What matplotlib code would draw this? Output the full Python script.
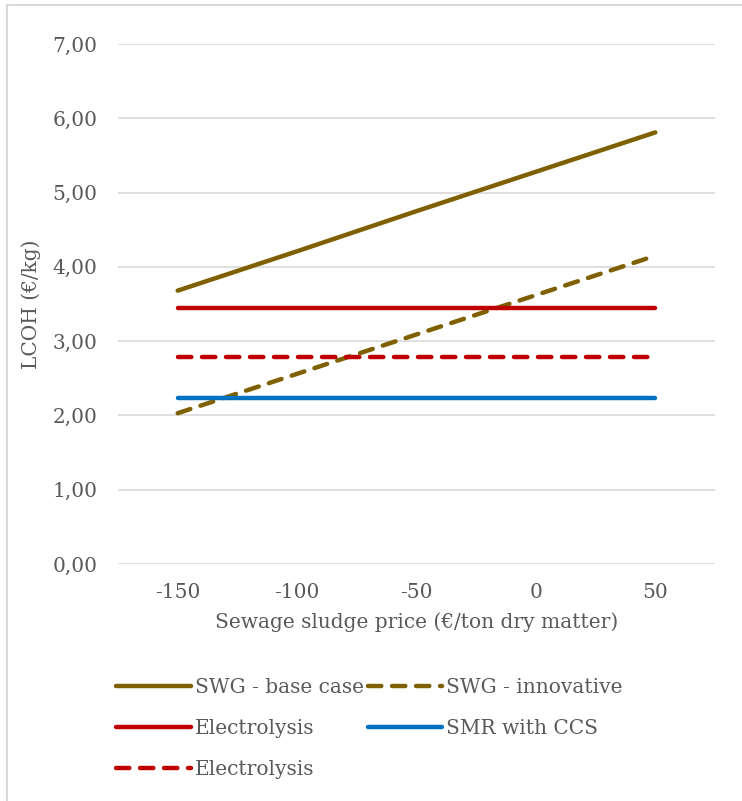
import matplotlib.pyplot as plt
from matplotlib.patches import Rectangle

# data
sludge_price = [-150, -100, -50, 0, 50]
swg_base = [3.68, 4.21, 4.75, 5.28, 5.81]
swg_innovative = [2.03, 2.56, 3.09, 3.62, 4.15]
electrolysis = [3.44, 3.44, 3.44, 3.44, 3.44]
smr_ccs = [2.24, 2.24, 2.24, 2.24, 2.24]
electrolysis_2 = [2.79, 2.79, 2.79, 2.79, 2.79]

y_ticks = [0, 1, 2, 3, 4, 5, 6, 7]

plt.rcParams['font.family'] = ['DejaVu Serif']
txt = '#595959'
fs = 14.5

fig = plt.figure(figsize=(7.42, 8.01), dpi=100)
ax = fig.add_axes([118 / 742, 1 - 564 / 801, (715 - 118) / 742, (564 - 44) / 801])

lw = 3.2
dash = (3, 2.4)
l1, = ax.plot(sludge_price, swg_base, color='#7F6000', lw=lw, solid_capstyle='round',
              label='SWG - base case')
l2, = ax.plot(sludge_price, swg_innovative, color='#7F6000', lw=lw, dashes=dash,
              dash_capstyle='round', label='SWG - innovative')
l3, = ax.plot(sludge_price, electrolysis, color='#C00000', lw=lw, solid_capstyle='round',
              label='Electrolysis')
l4, = ax.plot(sludge_price, smr_ccs, color='#0070C0', lw=lw, solid_capstyle='round',
              label='SMR with CCS')
l5, = ax.plot(sludge_price, electrolysis_2, color='#C00000', lw=lw, dashes=dash,
              dash_capstyle='round', label='Electrolysis')

ax.set_xlim(-175, 75)
ax.set_ylim(0, 7)
ax.set_xticks(sludge_price)
ax.set_xticklabels([str(v) for v in sludge_price])
ax.set_yticks(y_ticks)
ax.set_yticklabels([f'{v:.2f}'.replace('.', ',') for v in y_ticks])
ax.tick_params(length=0, labelsize=fs, colors=txt)
ax.tick_params(axis='y', pad=15)
ax.tick_params(axis='x', pad=14)
ax.grid(axis='y', color='#D9D9D9', lw=1.2)
ax.set_axisbelow(True)
for s in ax.spines.values():
    s.set_visible(False)

ax.set_ylabel('LCOH (€/kg)', fontsize=fs, color=txt, labelpad=8)
ax.set_xlabel('Sewage sludge price (€/ton dry matter)', fontsize=fs, color=txt, labelpad=7)

# legend fills column by column, so order the handles to give the reference's rows
leg = fig.legend(handles=[l1, l3, l5, l2, l4], ncol=2, loc='upper left',
                 bbox_to_anchor=(98 / 742, 1 - 660 / 801), frameon=False,
                 fontsize=fs, handlelength=3.7, handletextpad=0.2,
                 columnspacing=0.2, labelspacing=1.1)
for t in leg.get_texts():
    t.set_color(txt)

# chart border (only left and top are visible in the crop)
fig.patches.append(Rectangle((7 / 742, -0.1), 1.2, 1 - 5 / 801 + 0.1, transform=fig.transFigure,
                             fill=False, edgecolor='#D9D9D9', lw=1.5))

fig.savefig('out.png', dpi=100)
